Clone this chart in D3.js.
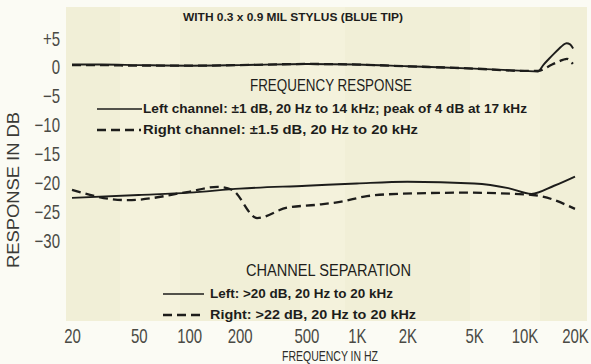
<!DOCTYPE html>
<html>
<head>
<meta charset="utf-8">
<script src="https://cdn.jsdelivr.net/npm/d3@7"></script>
<style>
  html, body { margin: 0; padding: 0; background: #fbfbf4; }
  svg { display: block; }
  .cond { font-family: "Liberation Sans Narrow", "Liberation Sans", Arial, sans-serif; }
</style>
</head>
<body>
<svg id="chart" width="591" height="364"></svg>
<script>
// Frequencies (Hz) and levels (dB) for each trace
const respLeftFreq  = [20, 30, 50, 100, 200, 500, 1000, 2000, 5000, 10000, 12000, 13000, 14000, 15000, 16000, 17000, 17800, 18700, 19500];
const respLeftDb    = [0.4, 0.4, 0.3, 0.2, 0.3, 0.5, 0.4, 0.1, -0.3, -0.7, -0.8, 0.4, 1.4, 2.3, 3.1, 3.8, 4.1, 3.9, 3.2];
const respRightFreq = [20, 30, 50, 100, 200, 500, 1000, 2000, 5000, 10000, 12000, 14600, 16900, 17900, 19400];
const respRightDb   = [0.3, 0.3, 0.2, 0.2, 0.3, 0.5, 0.4, 0.1, -0.3, -0.7, -0.7, 0.4, 1.2, 1.4, 0.5];

const sepLeftFreq  = [20, 50, 100, 200, 500, 1000, 2000, 5000, 8000, 11000, 15000, 20000];
const sepLeftDb    = [-22.7, -22.2, -21.8, -21.1, -20.6, -20.2, -19.9, -20.2, -21.0, -22.0, -20.6, -19.0];
const sepRightFreq = [20, 34, 43, 97, 147, 180, 254, 383, 578, 793, 1150, 1800, 4500, 11200, 20000];
const sepRightDb   = [-21.3, -22.9, -23.1, -21.7, -20.8, -21.3, -26.2, -24.4, -23.9, -23.4, -22.4, -22.0, -21.8, -22.2, -24.6];

const xTickValues = [20, 50, 100, 200, 500, 1000, 2000, 5000, 10000, 20000];
const xTickLabels = ["20", "50", "100", "200", "500", "1K", "2K", "5K", "10K", "20K"];
const yTickValues = [5, 0, -5, -10, -15, -20, -25, -30];
const yTickLabels = ["+5", "0", "\u22125", "\u221210", "\u221215", "\u221220", "\u221225", "\u221230"];

const titleText = "WITH 0.3 x 0.9 MIL STYLUS (BLUE TIP)";
const respHeading = "FREQUENCY RESPONSE";
const respLeftLabel = "Left channel: \u00b11 dB, 20 Hz to 14 kHz; peak of 4 dB at 17 kHz";
const respRightLabel = "Right channel: \u00b11.5 dB, 20 Hz to 20 kHz";
const sepHeading = "CHANNEL SEPARATION";
const sepLeftLabel = "Left: >20 dB, 20 Hz to 20 kHz";
const sepRightLabel = "Right: >22 dB, 20 Hz to 20 kHz";

const svg = d3.select("#chart");
const ink = "#1d1d1b";

const x = d3.scaleLog().domain([20, 20000]).range([72, 575]);
const y = d3.scaleLinear().domain([5, -30]).range([38, 240]);

// paper panel
svg.append("rect")
  .attr("x", 66).attr("y", 7).attr("width", 521).attr("height", 314)
  .attr("fill", "#f1efd7");

// faint vertical tone bands on the panel
[[120, 60], [300, 45], [470, 70]].forEach(([bx, bw]) => {
  svg.append("rect").attr("x", bx).attr("y", 7).attr("width", bw).attr("height", 314)
    .attr("fill", "#f6f4e0").attr("opacity", 0.6);
});

const line = d3.line().x(d => x(d[0])).y(d => y(d[1])).curve(d3.curveMonotoneX);

function trace(freqs, dbs, dashed) {
  svg.append("path")
    .datum(freqs.map((f, i) => [f, dbs[i]]))
    .attr("d", line)
    .attr("fill", "none")
    .attr("stroke", ink)
    .attr("stroke-width", dashed ? 2.3 : 1.9)
    .attr("stroke-linecap", "butt")
    .attr("stroke-dasharray", dashed ? "9,5" : null);
}

trace(respLeftFreq, respLeftDb, false);
trace(respRightFreq, respRightDb, true);
trace(sepLeftFreq, sepLeftDb, false);
trace(sepRightFreq, sepRightDb, true);

// axes (labels drawn in a narrowed face)
const xAxis = d3.axisBottom(x)
  .tickValues(xTickValues)
  .tickFormat((d, i) => xTickLabels[i])
  .tickSize(0).tickPadding(0);
const gx = svg.append("g").attr("transform", "translate(0,329)").call(xAxis);
gx.select(".domain").remove();
gx.selectAll("text")
  .attr("class", "cond")
  .style("font-size", "20px")
  .attr("fill", "#4a4a44")
  .attr("dy", "0.71em")
  .attr("transform", "scale(0.75,1)");

const yAxis = d3.axisLeft(y)
  .tickValues(yTickValues)
  .tickFormat((d, i) => yTickLabels[i])
  .tickSize(0).tickPadding(0);
const gy = svg.append("g").attr("transform", "translate(60,0)").call(yAxis);
gy.select(".domain").remove();
gy.selectAll("text")
  .attr("class", "cond")
  .style("font-size", "20px")
  .attr("fill", "#4a4a44")
  .attr("dy", "0.35em")
  .attr("transform", "scale(0.75,1)");

// axis titles
svg.append("text").attr("class", "cond")
  .attr("transform", "translate(19,190) rotate(-90)")
  .attr("text-anchor", "middle")
  .attr("font-size", 16).attr("fill", "#3a3a36")
  .attr("textLength", 156).attr("lengthAdjust", "spacingAndGlyphs")
  .text("RESPONSE IN DB");

svg.append("text").attr("class", "cond")
  .attr("x", 330).attr("y", 361)
  .attr("text-anchor", "middle")
  .attr("font-size", 14).attr("fill", "#2e2e2a")
  .attr("textLength", 96).attr("lengthAdjust", "spacingAndGlyphs")
  .text("FREQUENCY IN HZ");

function label(txt, x0, y0, size, len, weight) {
  svg.append("text").attr("class", "cond")
    .attr("x", x0).attr("y", y0)
    .attr("font-size", size).attr("font-weight", weight || "bold")
    .attr("fill", ink)
    .attr("textLength", len).attr("lengthAdjust", "spacingAndGlyphs")
    .text(txt);
}

label(titleText, 183, 21, 11, 220);
label(respHeading, 250, 91, 16, 162, "normal");
label(respLeftLabel, 143, 113, 13, 384);
label(respRightLabel, 143, 134, 13, 275);
label(sepHeading, 246, 276, 16, 165, "normal");
label(sepLeftLabel, 210, 298, 13, 183);
label(sepRightLabel, 210, 319, 13, 206);

// legend swatches
function swatch(x0, x1, y0, dashed) {
  svg.append("line")
    .attr("x1", x0).attr("x2", x1).attr("y1", y0).attr("y2", y0)
    .attr("stroke", ink).attr("stroke-width", dashed ? 2.3 : 1.6)
    .attr("stroke-dasharray", dashed ? "9,5" : null);
}
swatch(97, 142, 109, false);
swatch(97, 141, 130, true);
swatch(163, 204, 294, false);
swatch(163, 205, 315, true);
</script>
</body>
</html>
